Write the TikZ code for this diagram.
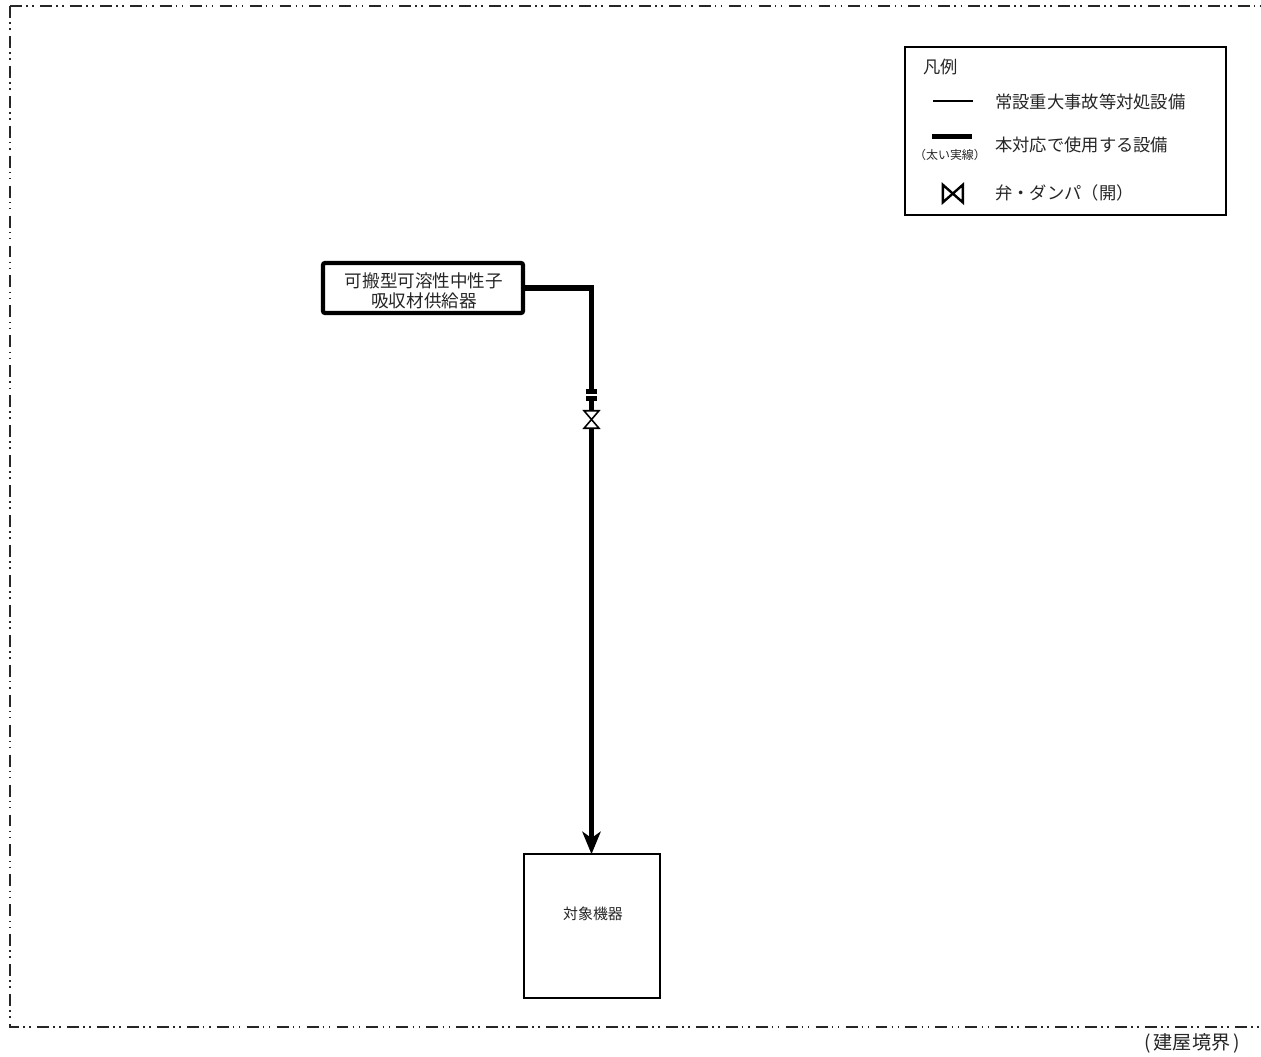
\documentclass[tikz,border=0pt]{standalone}
\usepackage{fontspec}
\setmainfont{Noto Sans CJK JP}
\usepackage{xcolor}
\usetikzlibrary{positioning, arrows.meta}

\begin{document}
\begin{tikzpicture}[
  >=Stealth,
  boundary/.style={line width=1.1pt, black!85,
    dash pattern=on 8.5pt off 3pt on 1.1pt off 3.2pt on 1.1pt off 4.4pt},
  equipbox/.style={draw, line width=3pt, fill=white, rounded corners=1.5pt,
    minimum width=5cm, minimum height=1.25cm, inner sep=0pt, outer sep=0pt},
  targetbox/.style={draw, line width=1.3pt, fill=white,
    minimum width=3.4cm, minimum height=3.59cm, inner sep=0pt, outer sep=0pt},
  legendbox/.style={draw, line width=1.3pt, fill=white,
    minimum width=8.025cm, minimum height=4.2cm, inner sep=0pt, outer sep=0pt},
  flange/.style={fill=black, minimum width=0.275cm, minimum height=0.125cm,
    inner sep=0pt, outer sep=0pt},
  valve/.style={minimum width=0.375cm, minimum height=0.4375cm,
    inner sep=0pt, outer sep=0pt},
  legendvalve/.style={minimum width=0.5cm, minimum height=0.44cm,
    inner sep=0pt, outer sep=0pt},
  valveline/.style={draw, fill=white, line width=1.1pt, line join=miter},
  pipe/.style={line width=3.6pt},
  thinline/.style={line width=1.5pt},
  legendthick/.style={line width=3.4pt},
  label/.style={font=\fontsize{12.3}{14.2}\selectfont, text=black!85,
    inner sep=0pt},
  smalllabel/.style={font=\fontsize{8.5}{10}\selectfont, text=black!85,
    inner sep=0pt},
]
\useasboundingbox (0, 0) rectangle (31.525, 26.4);

% ===== Building boundary =====
\coordinate (cornerTL) at (0.25, 26.25);
\coordinate (cornerTR) at (31.525, 26.25);
\coordinate (cornerBL) at (0.25, 0.725);
\coordinate (cornerBR) at (31.525, 0.725);
\draw[boundary] (cornerTL) -- (cornerTR);
\draw[boundary] (cornerTL) -- (cornerBL) -- (cornerBR);
\node[label, font=\fontsize{13.6}{16}\selectfont] (boundarylabel) at (29.8, 0.325) {(\,建屋境界\,)};

% ===== Legend =====
\node[legendbox] (legend) at (26.63, 23.13) {};
\node[label, anchor=west] (legendtitle) at (23.075, 24.725) {凡例};

\coordinate (thinL) at (23.325, 23.875);
\coordinate (thinR) at (24.325, 23.875);
\draw[thinline] (thinL) -- (thinR);
\node[label, anchor=west] (thinlabel) at (24.875, 23.85) {常設重大事故等対処設備};

\coordinate (thickL) at (23.3, 22.98);
\coordinate (thickR) at (24.3, 22.98);
\draw[legendthick] (thickL) -- (thickR);
\node[label, anchor=west] (thicklabel) at (24.875, 22.775) {本対応で使用する設備};
\node[smalllabel] (thicknote) at (23.75, 22.525) {（太い実線）};

\node[legendvalve] (valvesample) at (23.82, 21.56) {};
\draw[valveline, line width=1.7pt] (valvesample.north west) -- (valvesample.south west)
  -- (valvesample.north east) -- (valvesample.south east) -- cycle;
\node[label, anchor=west] (valvelabel) at (24.875, 21.575) {弁・ダンパ（開）};

% ===== Supply line =====
\node[equipbox] (supply) at (10.575, 19.2) {};
\node[label, align=center, font=\fontsize{12.5}{14.2}\selectfont] (supplylabel) at (10.6, 19.13) {可搬型可溶性中性子\\吸収材供給器};
\node[flange] (flangeA) at (14.7875, 16.6125) {};
\node[flange] (flangeB) at (14.7875, 16.4375) {};
\node[valve] (mainvalve) at (14.7875, 15.9125) {};
\node[targetbox] (target) at (14.8, 3.25) {};
\node[label, font=\fontsize{10.6}{12}\selectfont] (targetlabel) at (14.825, 3.55) {対象機器};

\draw[pipe] (supply.east) -| (flangeA.north);
\draw[pipe] (flangeB.south) -- (mainvalve.north);
\draw[pipe, -{Stealth[length=16pt, width=13pt, inset=4.5pt]}] (mainvalve.south) -- (mainvalve.south |- target.north);
\draw[valveline] (mainvalve.north west) -- (mainvalve.north east)
  -- (mainvalve.south west) -- (mainvalve.south east) -- cycle;

\end{tikzpicture}
\end{document}
